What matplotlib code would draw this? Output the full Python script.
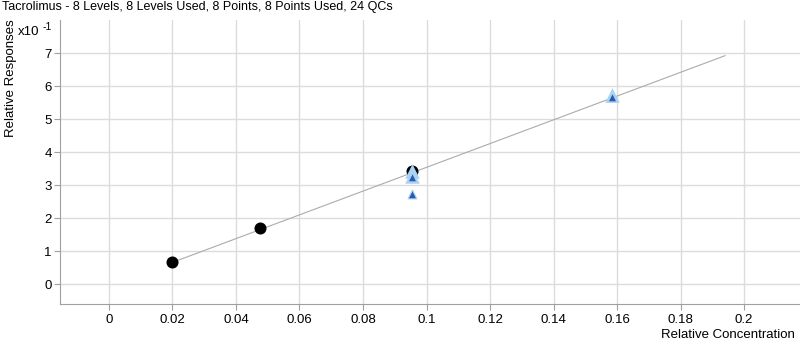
import matplotlib
matplotlib.use("Agg")
import matplotlib.pyplot as plt

plt.rcParams['font.family'] = ['Liberation Sans', 'DejaVu Sans']

title = "Tacrolimus - 8 Levels, 8 Levels Used, 8 Points, 8 Points Used, 24 QCs"

# calibration standards (x: relative concentration, y: relative response x10^-1)
std_x = [0.0200, 0.0477, 0.0955]
std_y = [0.66, 1.69, 3.44]

# QC points (light outer / dark inner)
qc_light_x = [0.0955, 0.0955, 0.1585]
qc_light_y = [3.42, 3.27, 5.72]
qc_dark_x = [0.0955, 0.0955, 0.1585]
qc_dark_y = [3.25, 2.72, 5.66]

# calibration curve
curve_x = [0.0200, 0.1940]
curve_y = [0.66, 6.92]

xticks = [0, 0.02, 0.04, 0.06, 0.08, 0.1, 0.12, 0.14, 0.16, 0.18, 0.2]
xtick_labels = ["0", "0.02", "0.04", "0.06", "0.08", "0.1", "0.12", "0.14", "0.16", "0.18", "0.2"]
yticks = [0, 1, 2, 3, 4, 5, 6, 7]

fig = plt.figure(figsize=(8, 3.43), dpi=100)
ax = fig.add_axes([0.075, 0.1137, 0.925, 0.828])

ax.plot(curve_x, curve_y, color='#ababab', lw=0.8, zorder=2)
ax.scatter(std_x, std_y, s=75, color='black', zorder=3, linewidths=0)
ax.scatter(qc_light_x, qc_light_y, s=110, marker='^', color='#a9d3f2', zorder=4, linewidths=0)
ax.scatter(qc_dark_x, qc_dark_y, s=40, marker='^', color='#2b5bb0', zorder=5,
           edgecolors='#a9d3f2', linewidths=0.8)

ax.set_xlim(-0.0154, 0.2176)
ax.set_ylim(-0.6, 8.0)
ax.set_xticks(xticks)
ax.set_xticklabels(xtick_labels)
ax.set_yticks(yticks)
ax.grid(True, color='#dcdcdc', lw=1)
ax.set_axisbelow(True)
for s in ['top', 'right']:
    ax.spines[s].set_visible(False)
for s in ['left', 'bottom']:
    ax.spines[s].set_color('#a0a0a0')
ax.tick_params(axis='both', colors='#a0a0a0', labelcolor='black', labelsize=9.5, length=4)
ax.tick_params(axis='x', pad=3)
ax.tick_params(axis='y', pad=2)

fig.text(0.003, 0.997, title, ha='left', va='top', fontsize=9)
fig.text(0.014, 0.773, "Relative Responses", rotation=90, ha='center', va='center', fontsize=9.5)
fig.text(0.022, 0.907, "x10", ha='left', va='center', fontsize=9.5)
fig.text(0.053, 0.922, "-1", ha='left', va='center', fontsize=7.5)
fig.text(0.994, 0.023, "Relative Concentration", ha='right', va='center', fontsize=9.5)

fig.savefig("out.png", dpi=100)
